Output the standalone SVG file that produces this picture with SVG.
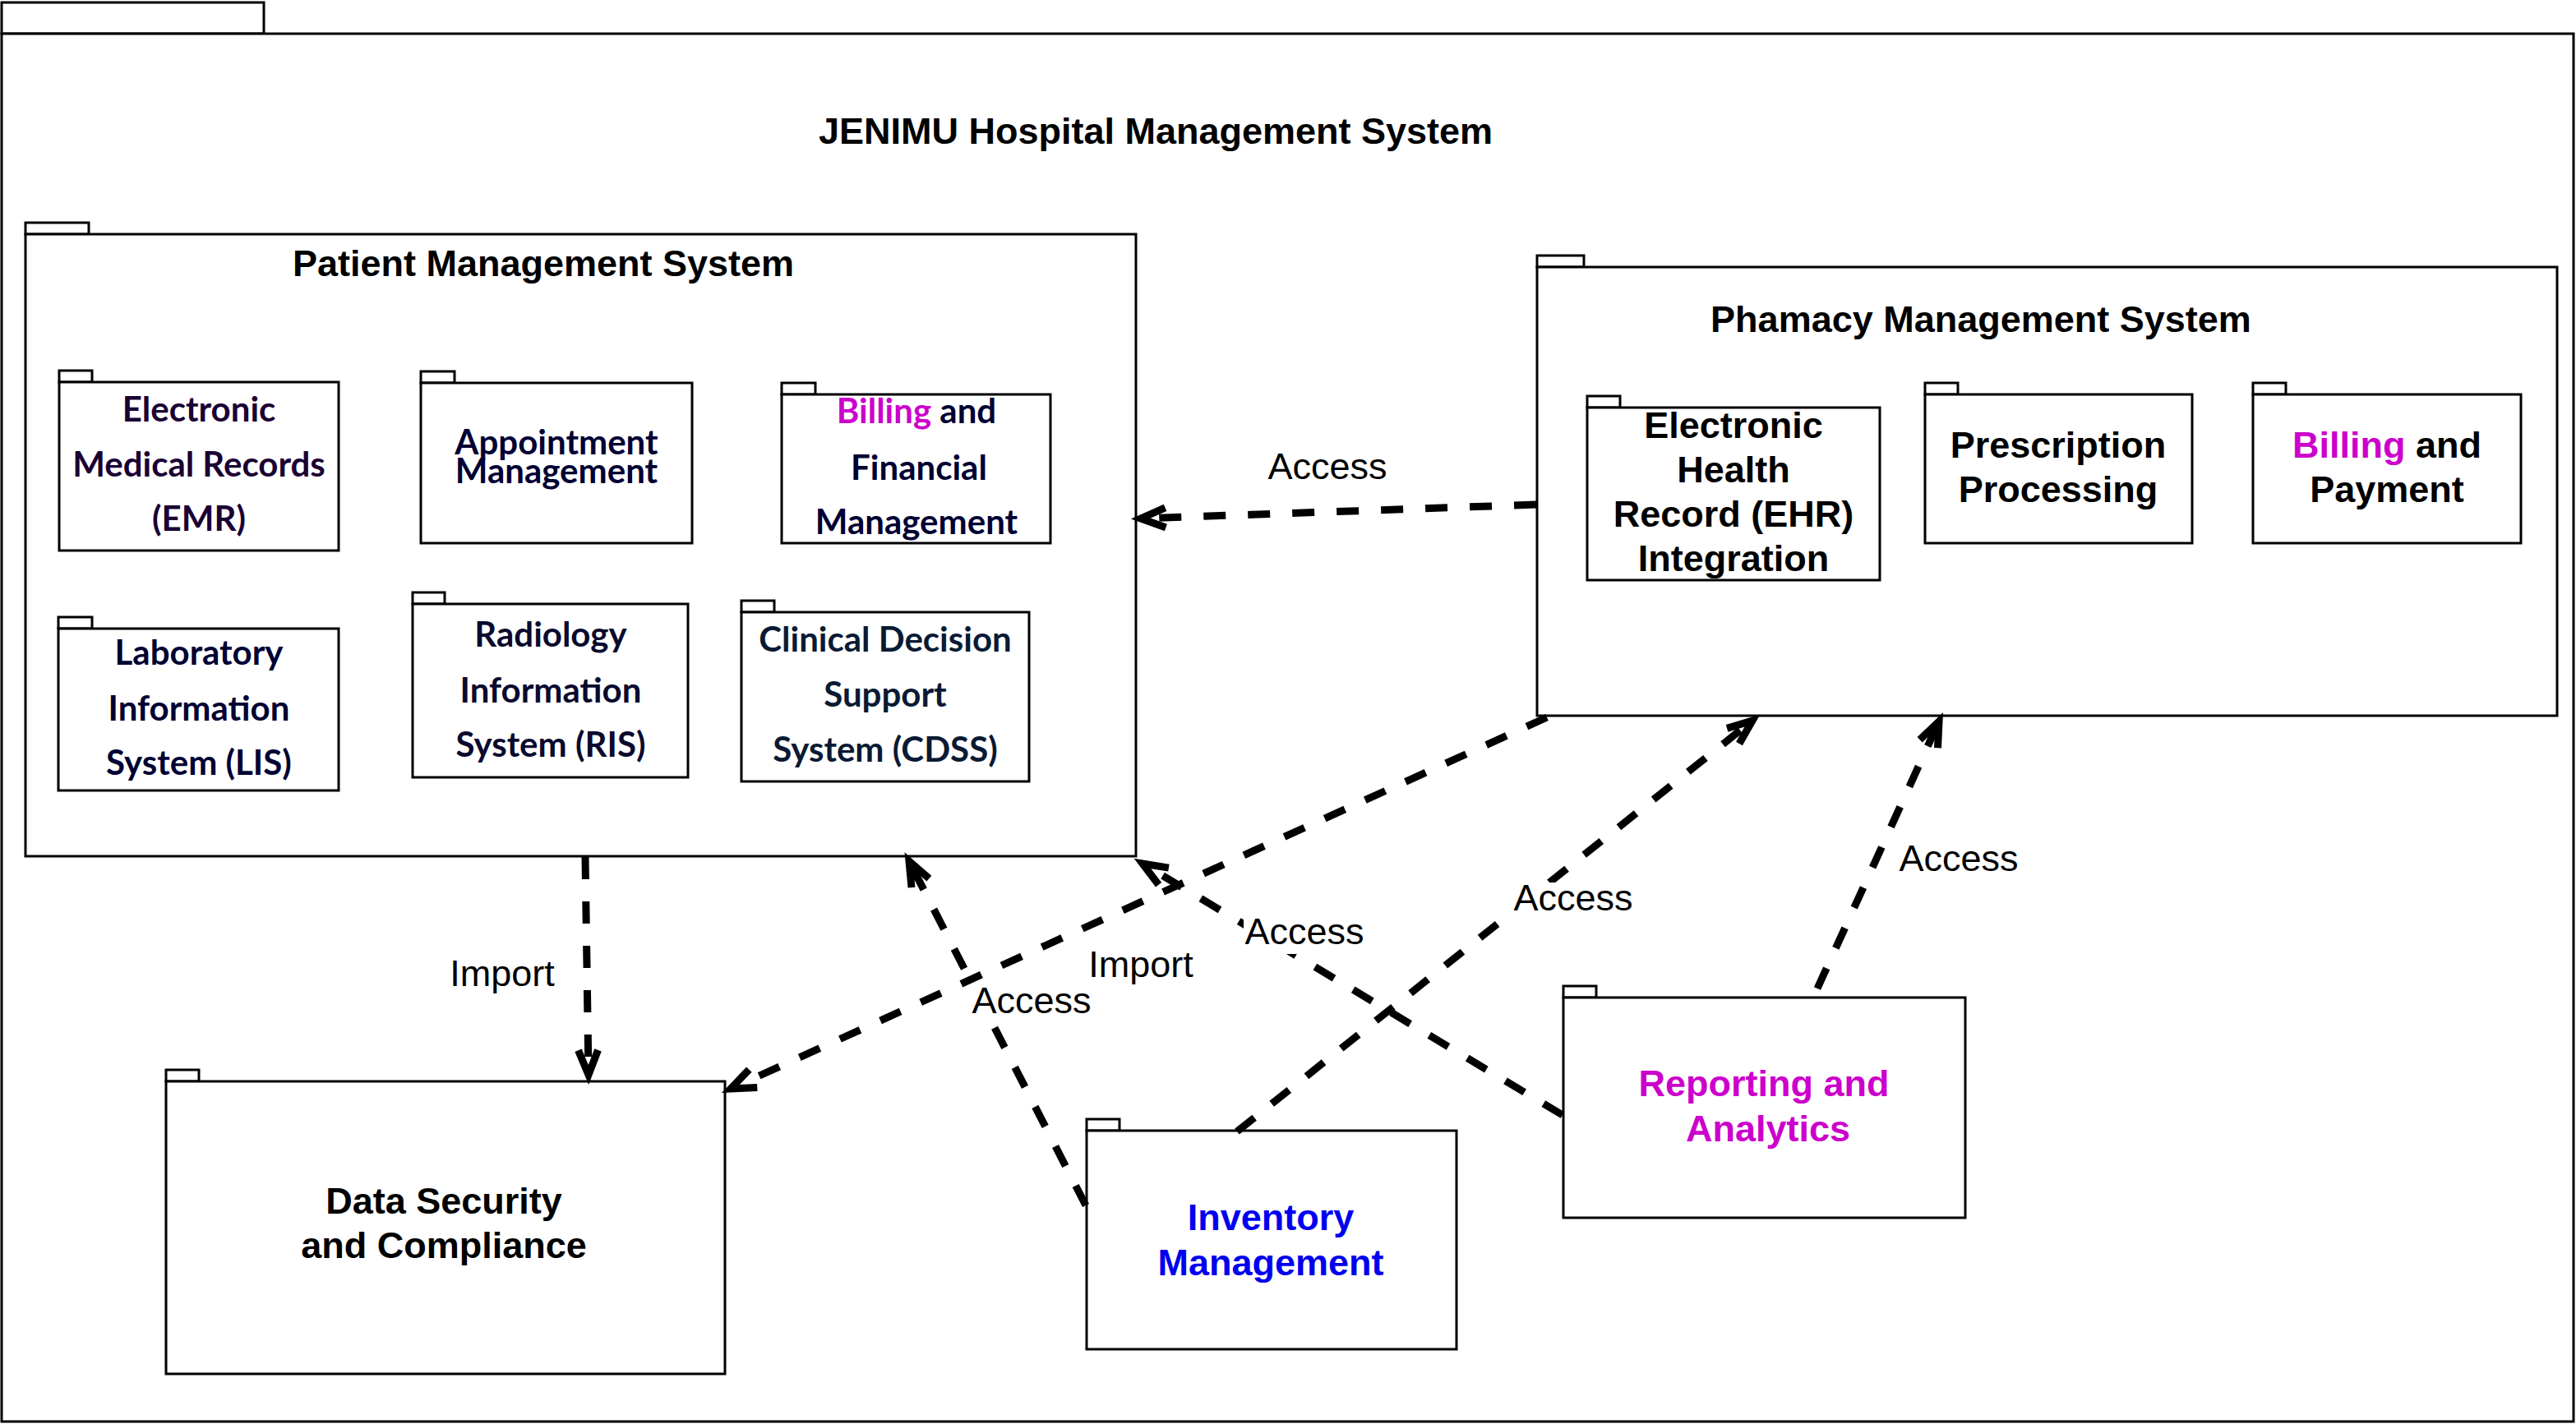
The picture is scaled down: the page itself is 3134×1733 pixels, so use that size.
<svg xmlns="http://www.w3.org/2000/svg" width="3134" height="1733" viewBox="0 0 3134 1733">
<defs>
<style>
.box{fill:#fff;stroke:#000;stroke-width:3}
.h{font-family:"Liberation Sans",Arial,Helvetica,sans-serif;font-weight:bold;font-size:45px;text-anchor:middle;fill:#000}
.c{font-family:Lato,"Open Sans",sans-serif;font-weight:bold;font-size:42px;text-anchor:middle;fill:#000033}
.lbl{font-family:"Liberation Sans",Arial,Helvetica,sans-serif;font-size:45px;text-anchor:middle;fill:#000}
.edge{fill:none;stroke:#000;stroke-width:9;stroke-dasharray:27 27;marker-end:url(#arr)}
.lb{fill:#fff;stroke:none}
.mag{fill:#cc00cc}
</style>
<marker id="arr" markerUnits="userSpaceOnUse" viewBox="-45 -25 55 50" refX="0" refY="0" markerWidth="55" markerHeight="50" orient="auto" overflow="visible">
<path d="M-30,-12 L0,0 L-30,12" fill="none" stroke="#000" stroke-width="9" stroke-dasharray="none"/>
</marker>
</defs>
<rect width="3134" height="1733" fill="#fff"/>

<g id="hospital-system">
<rect class="box" x="2" y="3" width="319" height="38"/>
<rect class="box" x="2" y="41" width="3129" height="1689"/>
<text class="h" x="1406" y="175">JENIMU Hospital Management System</text>
</g>

<g id="patient-management">
<rect class="box" x="31" y="271" width="77" height="14"/>
<rect class="box" x="31" y="285" width="1351" height="757"/>
<text class="h" x="661" y="336">Patient Management System</text>
</g>

<g id="emr">
<rect class="box" x="72" y="451" width="40" height="14"/>
<rect class="box" x="72" y="465" width="340" height="205"/>
<text class="c" x="242" y="513" style="fill:#1a0033">Electronic</text>
<text class="c" x="242" y="580" style="fill:#1a0033">Medical Records</text>
<text class="c" x="242" y="646" style="fill:#1a0033">(EMR)</text>
</g>

<g id="appointment">
<rect class="box" x="512" y="452" width="41" height="14"/>
<rect class="box" x="512" y="466" width="330" height="195"/>
<text class="c" x="677" y="553">Appointment</text>
<text class="c" x="677" y="588">Management</text>
</g>

<g id="billing-financial">
<rect class="box" x="951" y="466" width="41" height="14"/>
<rect class="box" x="951" y="480" width="327" height="181"/>
<text class="c" x="1115" y="515"><tspan class="mag">Billing</tspan> and</text>
<text class="c" x="1118" y="584">Financial</text>
<text class="c" x="1115" y="650">Management</text>
</g>

<g id="lis">
<rect class="box" x="71" y="751" width="41" height="14"/>
<rect class="box" x="71" y="765" width="341" height="197"/>
<text class="c" x="242" y="809">Laboratory</text>
<text class="c" x="242" y="877">Information</text>
<text class="c" x="242" y="943">System (LIS)</text>
</g>

<g id="ris">
<rect class="box" x="502" y="721" width="39" height="14"/>
<rect class="box" x="502" y="735" width="335" height="211"/>
<text class="c" x="670" y="787" style="fill:#0a0a2e">Radiology</text>
<text class="c" x="670" y="855" style="fill:#0a0a2e">Information</text>
<text class="c" x="670" y="921" style="fill:#0a0a2e">System (RIS)</text>
</g>

<g id="cdss">
<rect class="box" x="902" y="731" width="40" height="14"/>
<rect class="box" x="902" y="745" width="350" height="206"/>
<text class="c" x="1077" y="793" style="fill:#0a1a33">Clinical Decision</text>
<text class="c" x="1077" y="860" style="fill:#0a1a33">Support</text>
<text class="c" x="1077" y="927" style="fill:#0a1a33">System (CDSS)</text>
</g>

<g id="pharmacy-management">
<rect class="box" x="1870" y="311" width="57" height="14"/>
<rect class="box" x="1870" y="325" width="1241" height="546"/>
<text class="h" x="2410" y="404">Phamacy Management System</text>
</g>

<g id="ehr">
<rect class="box" x="1931" y="482" width="40" height="14"/>
<rect class="box" x="1931" y="496" width="356" height="210"/>
<text class="h" x="2109" y="533">Electronic</text>
<text class="h" x="2109" y="587">Health</text>
<text class="h" x="2109" y="641">Record (EHR)</text>
<text class="h" x="2109" y="695">Integration</text>
</g>

<g id="prescription">
<rect class="box" x="2342" y="466" width="40" height="14"/>
<rect class="box" x="2342" y="480" width="325" height="181"/>
<text class="h" x="2504" y="557">Prescription</text>
<text class="h" x="2504" y="611">Processing</text>
</g>

<g id="billing-payment">
<rect class="box" x="2741" y="466" width="40" height="14"/>
<rect class="box" x="2741" y="480" width="326" height="181"/>
<text class="h" x="2904" y="557"><tspan class="mag">Billing</tspan> and</text>
<text class="h" x="2904" y="611">Payment</text>
</g>

<g id="data-security">
<rect class="box" x="202" y="1302" width="40" height="14"/>
<rect class="box" x="202" y="1316" width="680" height="356"/>
<text class="h" x="540" y="1477">Data Security</text>
<text class="h" x="540" y="1531">and Compliance</text>
</g>

<g id="inventory">
<rect class="box" x="1322" y="1362" width="40" height="14"/>
<rect class="box" x="1322" y="1376" width="450" height="266"/>
<text class="h" x="1546" y="1497" style="fill:#0000ee">Inventory</text>
<text class="h" x="1546" y="1552" style="fill:#0000ee">Management</text>
</g>

<g id="reporting">
<rect class="box" x="1902" y="1200" width="40" height="14"/>
<rect class="box" x="1902" y="1214" width="489" height="268"/>
<text class="h" x="2146" y="1334" style="fill:#cc00cc">Reporting and</text>
<text class="h" x="2151" y="1389" style="fill:#cc00cc">Analytics</text>
</g>

<g id="connectors">
<path class="edge" d="M1869,614 L1388,631"/>
<path class="edge" d="M712,1043 L716,1308"/>
<path class="edge" d="M1882,873 L889,1325"/>
<path class="edge" d="M1321,1467 L1106,1048"/>
<path class="edge" d="M1505,1377 L2132,877"/>
<path class="edge" d="M1901,1357 L1390,1051"/>
<path class="edge" d="M2211,1203 L2359,878"/>
<rect class="lb" x="1541" y="549" width="148" height="46"/>
<text class="lbl" x="1615" y="583">Access</text>
<rect class="lb" x="548" y="1166" width="126" height="46"/>
<text class="lbl" x="611" y="1200">Import</text>
<rect class="lb" x="1325" y="1155" width="126" height="46"/>
<text class="lbl" x="1388" y="1189">Import</text>
<rect class="lb" x="1181" y="1199" width="148" height="46"/>
<text class="lbl" x="1255" y="1233">Access</text>
<rect class="lb" x="1840" y="1074" width="148" height="46"/>
<text class="lbl" x="1914" y="1108">Access</text>
<rect class="lb" x="1513" y="1115" width="148" height="46"/>
<text class="lbl" x="1587" y="1149">Access</text>
<rect class="lb" x="2309" y="1026" width="148" height="46"/>
<text class="lbl" x="2383" y="1060">Access</text>
</g>
</svg>
